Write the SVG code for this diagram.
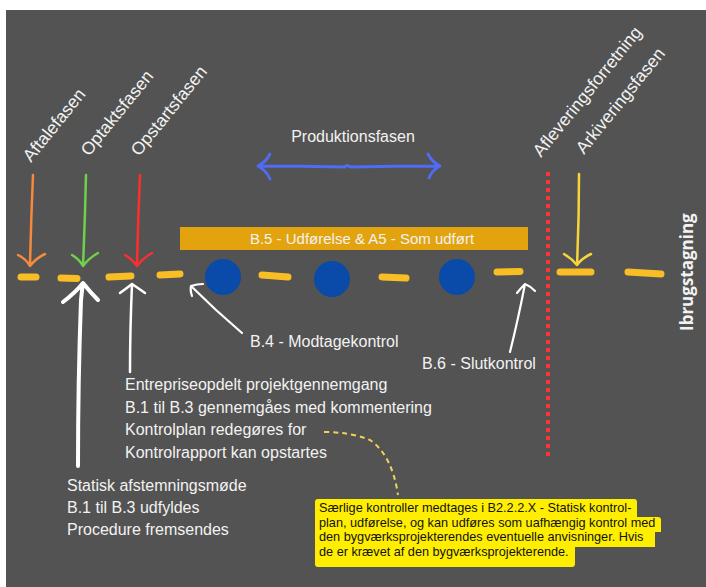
<svg xmlns="http://www.w3.org/2000/svg" width="706" height="587" viewBox="0 0 706 587">
<style>
.lbl{font-family:"Liberation Sans",Arial,sans-serif;fill:#f2f2f2;font-size:16px}
.rot{font-family:"Liberation Sans",Arial,sans-serif;fill:#f2f2f2;font-size:17.6px}
.note{font-family:"Liberation Sans",Arial,sans-serif;fill:#111;font-size:12.7px}
.dash{stroke:#f9bd25;stroke-width:7;stroke-linecap:round;fill:none}
.wa{stroke:#fff;fill:none;stroke-linecap:round;stroke-linejoin:round}
.dot{fill:#0a4aa8}
</style>
<rect x="0" y="0" width="706" height="587" fill="#fff"/>
<rect x="6" y="10" width="700" height="577" fill="#535353"/>

<g id="phase-labels">
<text class="rot" transform="translate(31,163) rotate(-51)">Aftalefasen</text>
<text class="rot" transform="translate(89,157) rotate(-51)">Optaktsfasen</text>
<text class="rot" transform="translate(139,157) rotate(-51)">Opstartsfasen</text>
<text class="rot" transform="translate(541,158) rotate(-51)">Afleveringsforretning</text>
<text class="rot" transform="translate(584,155) rotate(-51)">Arkiveringsfasen</text>
</g>

<g id="connectors">
<g fill="none" stroke-width="2.5" stroke-linecap="round" stroke-linejoin="round">
<path d="M33,175 Q31,220 30,266 M18,255 Q26,259 30,266 Q36,258 45,254" stroke="#f5893f"/>
<path d="M86,175 Q85,220 83,266 M72,255 Q79,259 83,266 Q89,258 98,253" stroke="#6fd14b"/>
<path d="M140,175 Q138,220 137,266 M125,255 Q132,259 137,266 Q143,258 152,253" stroke="#ff2d2d"/>
<path d="M579,174 Q579,220 577,265 M564,254 Q571,258 577,265 Q582,258 591,254" stroke="#f8d43c"/>
</g>
<path d="M258,166 Q300,166 345,167 Q347,164 350,167 Q395,166 440,166 M270,154 Q266,162 258,166 Q266,170 270,179 M428,154 Q432,162 440,166 Q432,170 429,178" fill="none" stroke="#4e6cf5" stroke-width="2.8" stroke-linecap="round" stroke-linejoin="round"/>
<line x1="548" y1="172" x2="548" y2="458" stroke="#ff3434" stroke-width="4" stroke-dasharray="4 4"/>
<g class="dash">
<path d="M21,277 L36,277"/>
<path d="M61,278 L77,278.5"/>
<path d="M109,277 L131,276"/>
<path d="M160,275 L180,274"/>
<path d="M262,275 L288,277"/>
<path d="M382,277 L406,278"/>
<path d="M497,272 L520,271.5"/>
<path d="M560,272 L591,272"/>
<path d="M628,272 L661,274"/>
</g>
<path class="wa" d="M78,466 Q78,380 81,300 Q82,290 83,283 M63,302 Q76,292 83,283 Q90,292 98,300" stroke-width="4"/>
<path class="wa" d="M130,372 Q130,330 132,284 M120,293 Q127,288 132,284 Q138,288 145,293" stroke-width="2.5"/>
<path class="wa" d="M242,333 Q215,310 191,286 M192,296 Q190,290 191,286 Q197,284 203,284" stroke-width="2.2"/>
<path class="wa" d="M510,352 Q518,320 525,284 M517,293 Q521,288 525,284 Q530,286 535,291" stroke-width="2.2"/>
<path d="M324,432 Q350,432 370,440 Q392,455 398,495" fill="none" stroke="#f2d35a" stroke-width="2" stroke-dasharray="5 4"/>
</g>

<g id="production-bar">
<rect x="180" y="227" width="348" height="23" fill="#e3a30f"/>
<text class="lbl" x="362" y="244" text-anchor="middle" style="font-size:15px">B.5 - Udførelse &amp; A5 - Som udført</text>
</g>

<g id="control-points">
<circle class="dot" cx="223" cy="277" r="18"/>
<circle class="dot" cx="332" cy="279" r="18"/>
<circle class="dot" cx="457" cy="277" r="18"/>
</g>

<g id="produktionsfasen">
<text class="lbl" x="353" y="142" text-anchor="middle">Produktionsfasen</text>
</g>

<g id="ibrugstagning">
<text transform="translate(693,331) rotate(-90)" font-family="'Open Sans','Noto Sans',sans-serif" font-weight="bold" font-size="17" fill="#f2f2f2">Ibrugstagning</text>
</g>

<g id="b4">
<text class="lbl" x="250" y="347">B.4 - Modtagekontrol</text>
</g>
<g id="b6">
<text class="lbl" x="422" y="369">B.6 - Slutkontrol</text>
</g>

<g id="opstart-text">
<text class="lbl" x="125" y="390">Entrepriseopdelt projektgennemgang</text>
<text class="lbl" x="125" y="412.5">B.1 til B.3 gennemgåes med kommentering</text>
<text class="lbl" x="125" y="435">Kontrolplan redegøres for</text>
<text class="lbl" x="125" y="457.5">Kontrolrapport kan opstartes</text>
</g>

<g id="optakt-text">
<text class="lbl" x="67" y="491">Statisk afstemningsmøde</text>
<text class="lbl" x="67" y="513">B.1 til B.3 udfyldes</text>
<text class="lbl" x="67" y="535">Procedure fremsendes</text>
</g>

<g id="note">
<path d="M318,499 H634 Q637,499 637,502 V517 H658 Q661,517 661,520 V532 H655 V547 H575 V564 Q575,567 572,567 H318 Q315,567 315,564 V502 Q315,499 318,499 Z" fill="#ffee00"/>
<text class="note" x="319" y="512">Særlige kontroller medtages i B2.2.2.X - Statisk kontrol-</text>
<text class="note" x="319" y="526.5">plan, udførelse, og kan udføres som uafhængig kontrol med</text>
<text class="note" x="319" y="541">den bygværksprojekterendes eventuelle anvisninger. Hvis</text>
<text class="note" x="319" y="556">de er krævet af den bygværksprojekterende.</text>
</g>
</svg>
